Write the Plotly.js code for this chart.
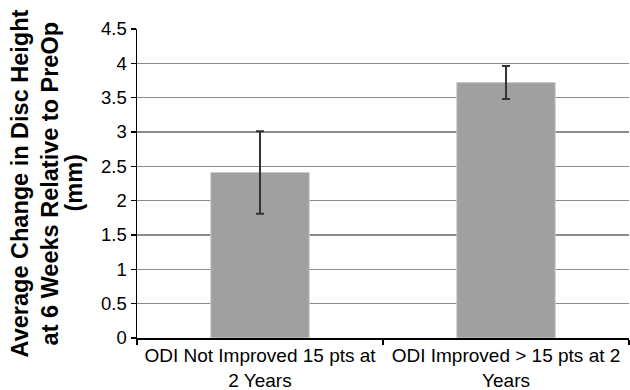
<!DOCTYPE html>
<html><head><meta charset="utf-8">
<script src="https://cdn.plot.ly/plotly-3.0.1.min.js"></script>
<style>html,body{margin:0;padding:0;background:#fff}#chart{width:630px;height:390px}</style>
</head><body><div id="chart"></div>
<script>
const categories = ["ODI Not Improved 15 pts at<br>2 Years", "ODI Improved > 15 pts at 2<br>Years"];
const values = [2.41, 3.72];
const errors = [0.60, 0.24];
const yTicks = [0, 0.5, 1, 1.5, 2, 2.5, 3, 3.5, 4, 4.5];
const yTickLabels = ["0", "0.5", "1", "1.5", "2", "2.5", "3", "3.5", "4", "4.5"];
const yTitleLines = ["Average Change in Disc Height", "at 6 Weeks Relative to PreOp", "(mm)"];

const titleX = [-0.238, -0.177, -0.130];
const annotations = yTitleLines.map((t, i) => ({
  text: '<b>' + t + '</b>', xref: 'paper', yref: 'paper', x: titleX[i], y: 0.5,
  xanchor: 'center', yanchor: 'middle', textangle: -90, showarrow: false,
  font: {size: 23.5, color: '#000'}
}));

Plotly.newPlot('chart', [{
  type: 'bar',
  x: categories,
  y: values,
  width: 0.4,
  marker: {color: '#a0a0a0', line: {color: '#c8c8c8', width: 1}},
  error_y: {type: 'data', array: errors, visible: true, color: '#333333', thickness: 2, width: 4}
}], {
  width: 630, height: 390,
  margin: {l: 137, r: 1, t: 29, b: 52},
  paper_bgcolor: '#fff', plot_bgcolor: '#fff',
  font: {family: 'Liberation Sans, Arial, sans-serif', color: '#000'},
  showlegend: false,
  annotations: annotations,
  xaxis: {
    type: 'category', range: [-0.5, 1.5],
    showline: true, linecolor: '#000', linewidth: 1.5,
    ticks: 'outside', tickson: 'boundaries', ticklen: 5, tickcolor: '#000', tickwidth: 1.5,
    tickfont: {size: 19, color: '#000'},
    showgrid: false
  },
  yaxis: {
    range: [0, 4.5], tickvals: yTicks, ticktext: yTickLabels,
    showline: true, linecolor: '#000', linewidth: 1.5,
    ticks: 'outside', ticklen: 5, tickcolor: '#000', tickwidth: 1.5,
    tickfont: {size: 18.5, color: '#000'},
    showgrid: true, gridcolor: '#8c8c8c', gridwidth: 1.5,
    zeroline: false
  }
}, {displayModeBar: false, staticPlot: true});
</script></body></html>
